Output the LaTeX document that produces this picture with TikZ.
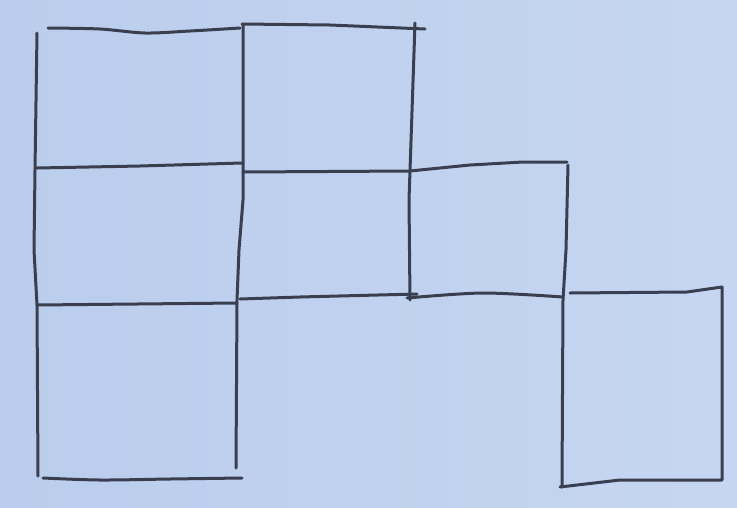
\documentclass[tikz,border=0pt]{standalone}
\definecolor{paper}{RGB}{186,205,236}
\definecolor{paperlight}{RGB}{198,214,242}
\definecolor{pencil}{RGB}{58,63,80}
\tikzset{pen/.style={draw=pencil, line width=3pt, line cap=round, line join=round}}
\begin{document}
\begin{tikzpicture}[x=1pt,y=-1pt]
\useasboundingbox (0,0) rectangle (737,507);
\shade[left color=paper, right color=paperlight] (0,0) rectangle (737,507);
% left column
\draw[pen] (37,33) -- (35,170) -- (34,250) -- (37,305) -- (38,476);
\draw[pen] plot[smooth] coordinates {(48,28) (100,29) (145,33) (190,31) (240,28)};
\draw[pen] (37,168) -- (140,166) -- (242,163);
\draw[pen] (37,305) -- (237,303);
\draw[pen] plot[smooth] coordinates {(43,478) (100,480) (170,479) (242,478)};
% second column
\draw[pen] (243,24) -- (243,200) -- (239,250) -- (237,300) -- (236,468);
\draw[pen] (242,24) -- (330,25) -- (425,29);
\draw[pen] (243,172) -- (410,171) -- (470,165) -- (523,162) -- (567,162);
\draw[pen] (240,299) -- (300,297) -- (417,294);
% third column
\draw[pen] (415,23) -- (409,200) -- (410,300);
\draw[pen] plot[smooth] coordinates {(407,298) (483,293) (563,297)};
\draw[pen] (568,165) -- (566,250) -- (563,300) -- (562,487);
% right box
\draw[pen] (570,293) -- (687,292) -- (722,287) -- (722,480) -- (620,480) -- (560,487);
\end{tikzpicture}
\end{document}
